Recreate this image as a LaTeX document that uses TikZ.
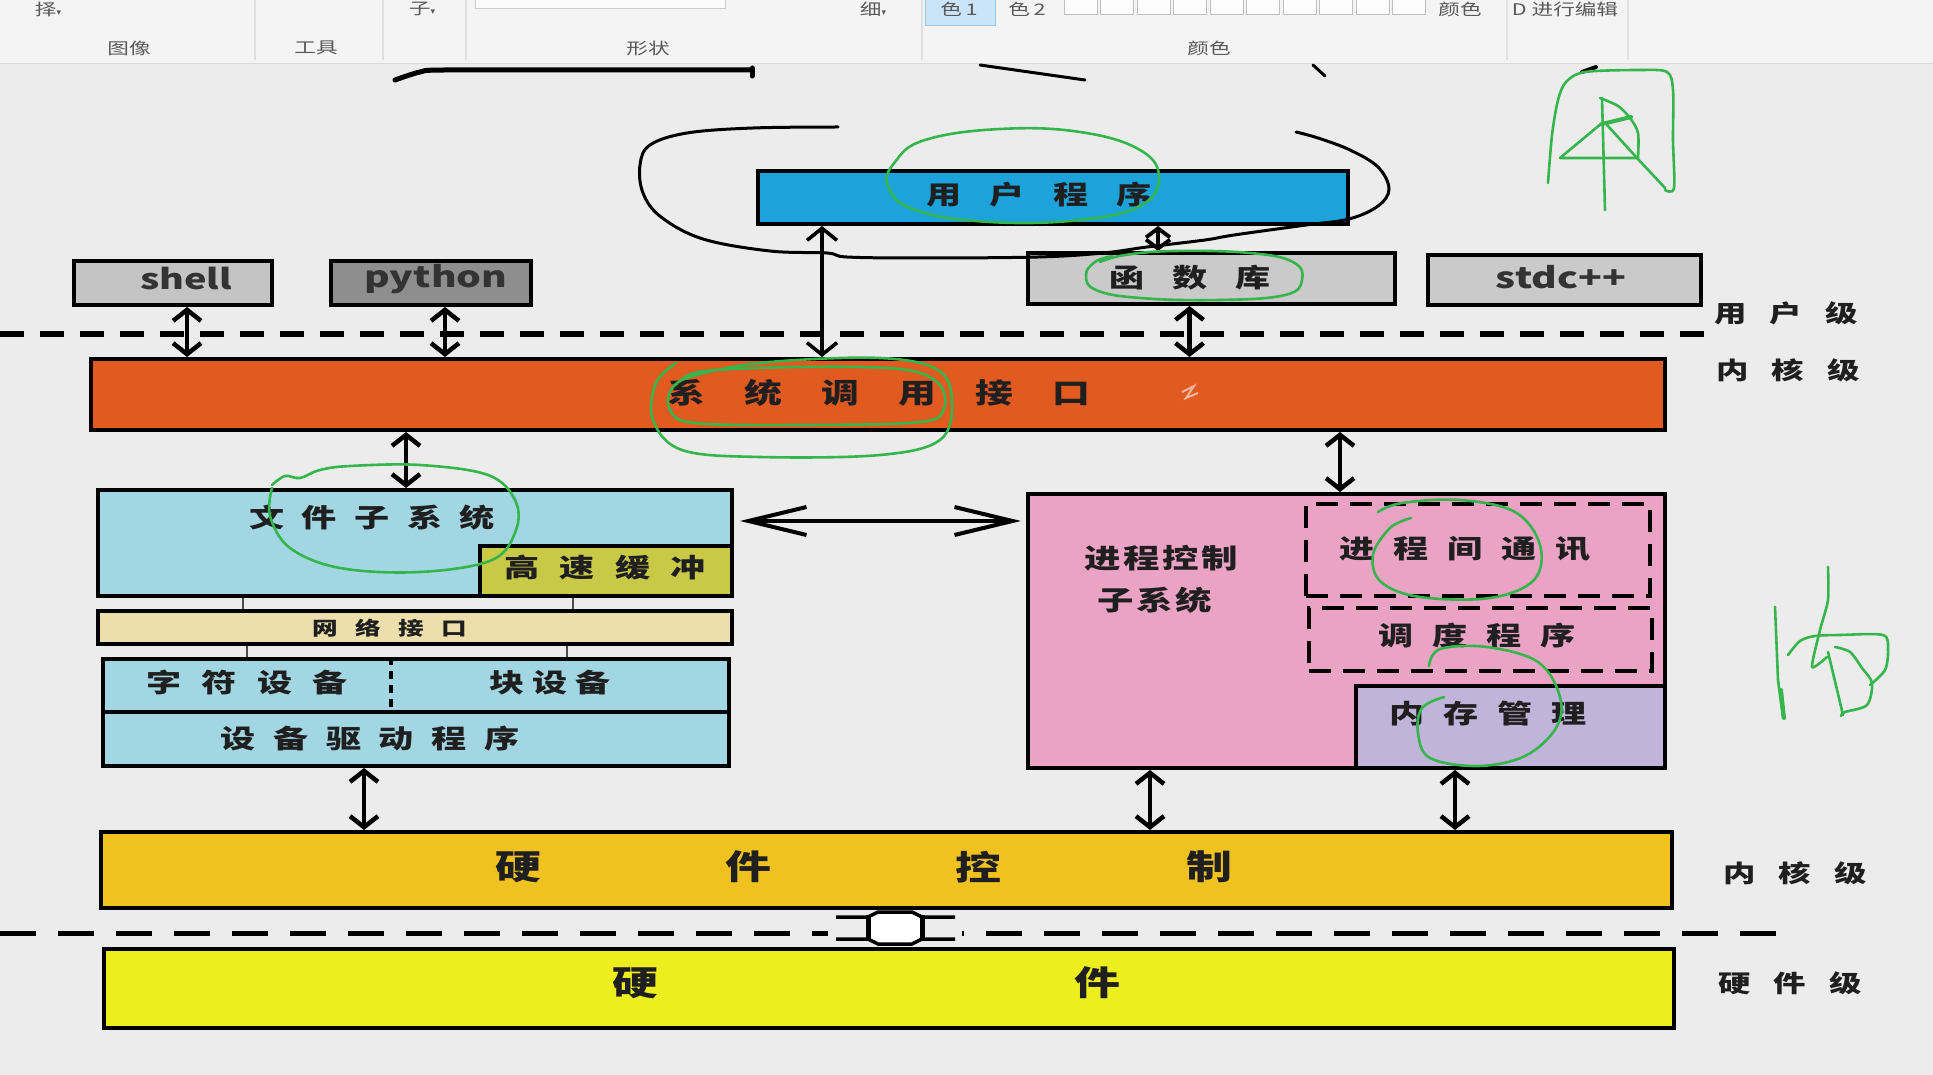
\documentclass[tikz,border=0pt]{standalone}
\usepackage{fontspec}
\usepackage{graphicx}
\newfontfamily\hei{Noto Sans CJK SC}
\newfontfamily\dejavu{DejaVu Sans}
\usetikzlibrary{arrows.meta}
\newcommand{\sx}[1]{\scalebox{1.35}[1]{#1}}
\newcommand{\myfs}[1]{\fontsize{#1}{#1}\selectfont}
\definecolor{canvasbg}{HTML}{ECECEC}
\definecolor{toolbg}{HTML}{F4F4F4}
\definecolor{selfill}{HTML}{CCE4F7}
\definecolor{seldraw}{HTML}{99C8EE}
\definecolor{userblue}{HTML}{1CA3DB}
\definecolor{sysorange}{HTML}{E15A1F}
\definecolor{fileblue}{HTML}{A2D6E3}
\definecolor{cacheolive}{HTML}{C9C948}
\definecolor{netbeige}{HTML}{ECDFAC}
\definecolor{procpink}{HTML}{EBA3C5}
\definecolor{memlav}{HTML}{C0B4DA}
\definecolor{hwctrl}{HTML}{F0C21F}
\definecolor{hwyellow}{HTML}{EDEE1E}
\definecolor{gshell}{HTML}{C4C4C4}
\definecolor{gpython}{HTML}{8E8E8E}
\definecolor{glib}{HTML}{CACACA}
\definecolor{handgreen}{HTML}{35B54C}
\tikzset{
  bx/.style={draw=black, line width=4pt, anchor=north west, inner sep=0pt},
  dbx/.style={draw=black, line width=4pt, dash pattern=on 22pt off 12pt, anchor=north west, inner sep=0pt},
  txt/.style={font=\hei\bfseries, inner sep=0pt, text=black!88},
  tbt/.style={font=\hei\myfs{16}, inner sep=0pt, text=black!65},
  darr/.style={line width=4.5pt, {Straight Barb[length=11pt,width=28pt]}-{Straight Barb[length=11pt,width=28pt]}},
  harr/.style={line width=4pt, {Straight Barb[length=58pt,width=28pt]}-{Straight Barb[length=58pt,width=28pt]}},
  tconn/.style={line width=1.6pt, draw=black!70},
  dline/.style={line width=5pt, dash pattern=on 24pt off 16pt},
  grn/.style={draw=handgreen, line width=2.6pt, line cap=round, line join=round},
  hand/.style={draw=black, line width=3pt, line cap=round, line join=round}
}
\begin{document}
\begin{tikzpicture}[x=1pt,y=-1pt]
\useasboundingbox (0,0) rectangle (1933,1075);
\clip (0,0) rectangle (1933,1075);
\fill[canvasbg] (0,0) rectangle (1933,1075);
% ---------- toolbar ----------
\fill[toolbg] (0,0) rectangle (1933,64);
\draw[black!15, line width=1pt] (0,64) -- (1933,64);
\foreach \xx in {255,383,466,922,1507,1628} \draw[black!12, line width=1.2pt] (\xx,0) -- (\xx,60);
\draw[black!20, fill=white!60!toolbg, line width=1pt] (475,-3) rectangle (725,9);
\fill[selfill] (925,-3) rectangle (995,26);
\draw[seldraw, line width=1pt] (925,-3) rectangle (995,26);
\foreach \i in {0,...,9} \draw[black!25, fill=white!80!toolbg, line width=1pt] ({1064+36.5*\i},-3) rectangle ({1064+36.5*\i+33},15);
\node[tbt] (tb1) at (48,9) {\sx{择}{\dejavu\myfs{9}▾}};
\node[tbt] (tb2) at (422,9) {\sx{子}{\dejavu\myfs{9}▾}};
\node[tbt] (tb3) at (873,9) {\sx{细}{\dejavu\myfs{9}▾}};
\node[tbt] (tb4) at (959,9) {\sx{色\,1}};
\node[tbt] (tb5) at (1027,9) {\sx{色\,2}};
\node[tbt] (tb6) at (1460,9) {\sx{颜色}};
\node[tbt] (tb7) at (1565,9) {\sx{D 进行编辑}};
\node[tbt] (tg1) at (129,48) {\sx{图像}};
\node[tbt] (tg2) at (316,48) {\sx{工具}};
\node[tbt] (tg3) at (648,48) {\sx{形状}};
\node[tbt] (tg4) at (1209,48) {\sx{颜色}};
% ---------- dashed level lines ----------
\coordinate (dla) at (0,334);
\coordinate (dlb) at (1707,334);
\draw[dline] (dla) -- (dlb);
\coordinate (dlc) at (0,933);
\coordinate (dld) at (1791,933);
\draw[line width=5pt, dash pattern=on 36pt off 22pt] (dlc) -- (dld);
% ---------- boxes ----------
\node[bx, fill=userblue, minimum width=590pt, minimum height=53pt] (user) at (756,169) {};
\node[bx, fill=gshell, minimum width=198pt, minimum height=44pt] (shell) at (72,259) {};
\node[bx, fill=gpython, minimum width=200pt, minimum height=44pt] (python) at (329,259) {};
\node[bx, fill=glib, minimum width=367pt, minimum height=51pt] (lib) at (1026,251) {};
\node[bx, fill=glib, minimum width=273pt, minimum height=50pt] (stdc) at (1426,253) {};
\node[bx, fill=sysorange, minimum width=1574pt, minimum height=71pt] (sys) at (89,357) {};
\node[bx, fill=fileblue, minimum width=634pt, minimum height=106pt] (file) at (96,488) {};
\node[bx, fill=cacheolive, minimum width=252pt, minimum height=50pt] (cache) at (478,544) {};
\node[bx, fill=netbeige, minimum width=634pt, minimum height=33pt] (net) at (96,609) {};
\node[bx, fill=fileblue, minimum width=626pt, minimum height=53pt] (chr) at (101,657) {};
\node[bx, fill=fileblue, minimum width=626pt, minimum height=54pt] (drv) at (101,710) {};
\node[bx, fill=procpink, minimum width=637pt, minimum height=274pt] (proc) at (1026,492) {};
\node[dbx, minimum width=344pt, minimum height=92pt] (ipc) at (1304,502) {};
\node[dbx, minimum width=343pt, minimum height=63pt] (sched) at (1307,606) {};
\node[bx, fill=memlav, minimum width=309pt, minimum height=82pt] (mem) at (1354,684) {};
\node[bx, fill=hwctrl, minimum width=1571pt, minimum height=76pt] (hwc) at (99,830) {};
\node[bx, fill=hwyellow, minimum width=1570pt, minimum height=79pt] (hw) at (102,947) {};
\draw[line width=4pt, dash pattern=on 8pt off 6pt] ([xshift=290pt]chr.north west) -- ([xshift=290pt]chr.south west);
% ---------- texts ----------
\node[txt, font=\hei\bfseries\myfs{26}] (tuser) at (1039,195) {\sx{用\hspace{21pt}户\hspace{21pt}程\hspace{21pt}序}};
\node[txt, font=\hei\bfseries\myfs{28}, text=black!80] (tshell) at (186,279) {\sx{shell}};
\node[txt, font=\hei\bfseries\myfs{29}, text=black!80] (tpython) at (436,279) {\sx{python}};
\node[txt, font=\hei\bfseries\myfs{26}] (tlib) at (1190,278) {\sx{函\hspace{21pt}数\hspace{21pt}库}};
\node[txt, font=\hei\bfseries\myfs{29}, text=black!80] (tstdc) at (1561,277) {\sx{stdc++}};
\node[txt, font=\hei\bfseries\myfs{28}] (tsys) at (879,393) {\sx{系\hspace{29pt}统\hspace{29pt}调\hspace{29pt}用\hspace{29pt}接\hspace{29pt}口}};
\node[txt, font=\hei\bfseries\myfs{26}] (tfile) at (372,518) {\sx{文\hspace{13pt}件\hspace{13pt}子\hspace{13pt}系\hspace{13pt}统}};
\node[txt, font=\hei\bfseries\myfs{26}] (tcache) at (605,568) {\sx{高\hspace{15pt}速\hspace{15pt}缓\hspace{15pt}冲}};
\node[txt, font=\hei\bfseries\myfs{19}] (tnet) at (390,628) {\sx{网\hspace{13pt}络\hspace{13pt}接\hspace{13pt}口}};
\node[txt, font=\hei\bfseries\myfs{26}] (tchr) at (247,683) {\sx{字\hspace{15pt}符\hspace{15pt}设\hspace{15pt}备}};
\node[txt, font=\hei\bfseries\myfs{26}] (tblk) at (550,683) {\sx{块\hspace{6pt}设\hspace{6pt}备}};
\node[txt, font=\hei\bfseries\myfs{26}] (tdrv) at (370,739) {\sx{设\hspace{13pt}备\hspace{13pt}驱\hspace{13pt}动\hspace{13pt}程\hspace{13pt}序}};
\node[txt, font=\hei\bfseries\myfs{27}] (tpc1) at (1161,558) {\sx{进\hspace{2pt}程\hspace{2pt}控\hspace{2pt}制}};
\node[txt, font=\hei\bfseries\myfs{27}] (tpc2) at (1155,600) {\sx{子\hspace{2pt}系\hspace{2pt}统}};
\node[txt, font=\hei\bfseries\myfs{26}] (tipc) at (1465,549) {\sx{进\hspace{14pt}程\hspace{14pt}间\hspace{14pt}通\hspace{14pt}讯}};
\node[txt, font=\hei\bfseries\myfs{26}] (tsched) at (1477,636) {\sx{调\hspace{14pt}度\hspace{14pt}程\hspace{14pt}序}};
\node[txt, font=\hei\bfseries\myfs{26}] (tmem) at (1488,714) {\sx{内\hspace{14pt}存\hspace{14pt}管\hspace{14pt}理}};
\node[txt, font=\hei\bfseries\myfs{34}] (thc1) at (518,867) {\sx{硬}};
\node[txt, font=\hei\bfseries\myfs{34}] (thc2) at (748,867) {\sx{件}};
\node[txt, font=\hei\bfseries\myfs{34}] (thc3) at (978,867) {\sx{控}};
\node[txt, font=\hei\bfseries\myfs{34}] (thc4) at (1209,867) {\sx{制}};
\node[txt, font=\hei\bfseries\myfs{34}] (thw1) at (635,983) {\sx{硬}};
\node[txt, font=\hei\bfseries\myfs{34}] (thw2) at (1097,983) {\sx{件}};
\node[txt, font=\hei\bfseries\myfs{24}] (lv1) at (1786,313) {\sx{用\hspace{17pt}户\hspace{17pt}级}};
\node[txt, font=\hei\bfseries\myfs{24}] (lv2) at (1788,370) {\sx{内\hspace{17pt}核\hspace{17pt}级}};
\node[txt, font=\hei\bfseries\myfs{24}] (lv3) at (1795,873) {\sx{内\hspace{17pt}核\hspace{17pt}级}};
\node[txt, font=\hei\bfseries\myfs{24}] (lv4) at (1790,983) {\sx{硬\hspace{17pt}件\hspace{17pt}级}};
% cursor mark in system call box
\draw[white!55!sysorange, line width=2pt] (1182,392) -- (1194,386) -- (1186,398) -- (1198,393);
% ---------- connectors ----------
\draw[darr] ([xshift=14pt]shell.south) -- ([xshift=14pt]shell.south |- sys.north);
\draw[darr] ([xshift=14pt]python.south) -- ([xshift=14pt]python.south |- sys.north);
\draw[darr] ([xshift=-22pt]lib.south) -- ([xshift=-22pt]lib.south |- sys.north);
\draw[line width=3.6pt, {Straight Barb[length=12pt,width=30pt]}-{Straight Barb[length=12pt,width=30pt]}] ([xshift=66pt]user.south west) -- ([xshift=66pt]user.south west |- sys.north);
\draw[line width=3.8pt, {Straight Barb[length=9pt,width=24pt]}-{Straight Barb[length=9pt,width=24pt]}] ([xshift=-192pt]user.south east) -- ([xshift=-192pt]user.south east |- lib.north);
\draw[darr] ([xshift=310pt]file.north west |- sys.south) -- ([xshift=310pt]file.north west);
\draw[darr] ([xshift=314pt]proc.north west |- sys.south) -- ([xshift=314pt]proc.north west);
\draw[harr, shorten <=6pt, shorten >=5pt] ([yshift=22pt]file.east) -- ([yshift=22pt]file.east -| proc.west);
\draw[tconn] ([xshift=147pt]file.south west) -- ([xshift=147pt]net.north west);
\draw[tconn] ([xshift=477pt]file.south west) -- ([xshift=477pt]net.north west);
\draw[tconn] ([xshift=151pt]net.south west) -- ([xshift=146pt]chr.north west);
\draw[tconn] ([xshift=471pt]net.south west) -- ([xshift=466pt]chr.north west);
\draw[darr] ([xshift=-52pt]drv.south) -- ([xshift=-52pt]drv.south |- hwc.north);
\draw[darr] ([xshift=124pt]proc.south west) -- ([xshift=124pt]proc.south west |- hwc.north);
\draw[darr] ([xshift=101pt]mem.south west) -- ([xshift=101pt]mem.south west |- hwc.north);
% link hardware control <-> hardware
\fill[canvasbg] (828,910) rectangle (962,946);
\fill[white] (868,916) -- (878,912) -- (912,912) -- (922,916) -- (922,940) -- (912,944) -- (878,944) -- (868,940) -- cycle;
\draw[line width=3.5pt, line join=round] (836,917) -- (868,917) -- (878,912) -- (912,912) -- (922,917) -- (955,917);
\draw[line width=3.5pt, line join=round] (836,939) -- (868,939) -- (878,944) -- (912,944) -- (922,939) -- (955,939);
\draw[line width=5pt] (868,915) -- (868,941);
\draw[line width=5pt] (922,915) -- (922,941);
% ---------- handwritten black ----------
\draw[hand] plot[smooth, tension=0.6] coordinates {(838,127) (753,128) (687,133) (650,145) (640,165) (643,193) (661,217) (703,239) (770,251) (827,253) (847,257) (920,258) (1038,257) (1103,253) (1147,247) (1205,240) (1234,235) (1306,225) (1349,219) (1378,206) (1389,189) (1378,167) (1350,150) (1318,138) (1296,132)};
\draw[hand, line width=5pt] plot[smooth, tension=0.5] coordinates {(395,80) (420,72) (444,70) (600,70) (752,70)};
\draw[hand, line width=5pt] (752,68) -- (752,76);
\draw[hand] (980,65) -- (1085,80);
\draw[hand] (1313,65) -- (1325,76);
\draw[hand, line width=4pt] (1582,72) -- (1596,67);
% ---------- handwritten green ----------
\draw[grn] plot[smooth cycle, tension=0.7] coordinates {(895,162) (925,140) (1000,129) (1080,132) (1140,150) (1159,178) (1140,206) (1080,220) (990,222) (915,210) (888,186)};
\draw[grn] plot[smooth, tension=0.7] coordinates {(1100,262) (1125,255) (1175,251) (1250,253) (1293,262) (1302,280) (1285,295) (1220,300) (1140,298) (1096,290) (1086,275) (1095,262) (1112,256)};
\draw[grn] plot[smooth, tension=0.6] coordinates {(682,380) (705,371) (800,367) (900,369) (938,383) (944,408) (920,422) (800,425) (695,423) (670,410) (673,387) (700,374) (770,362) (880,358) (938,370) (952,402) (940,440) (880,455) (760,457) (682,450) (653,420) (656,383) (676,363)};
\draw[grn] plot[smooth, tension=0.6] coordinates {(272,485) (285,476) (300,478) (320,470) (350,466) (420,465) (488,475) (515,500) (516,530) (492,560) (420,572) (340,568) (290,548) (270,516) (272,488)};
\draw[grn] plot[smooth, tension=0.6] coordinates {(1411,518) (1390,528) (1373,555) (1381,582) (1420,597) (1490,598) (1534,580) (1540,545) (1515,512) (1460,500) (1402,503) (1378,512)};
\draw[grn] plot[smooth, tension=0.6] coordinates {(1429,666) (1440,649) (1487,647) (1538,662) (1560,697) (1556,728) (1525,756) (1478,766) (1430,758) (1418,733) (1422,708) (1444,697)};
% green character 1
\draw[grn] plot[smooth, tension=0.5] coordinates {(1548,183) (1552,135) (1558,100) (1566,82) (1585,72) (1640,70) (1667,72) (1673,90) (1673,140) (1674,188) (1665,190)};
\draw[grn] (1602,98) -- (1605,210);
\draw[grn] plot[smooth, tension=0.5] coordinates {(1600,98) (1618,106) (1630,118) (1638,133) (1638,158)};
\draw[grn, line width=4pt] (1602,124) -- (1631,117);
\draw[grn] (1602,123) -- (1560,158) -- (1637,158);
\draw[grn] (1607,125) -- (1637,158) -- (1665,188);
% green character 2
\draw[grn] (1775,607) -- (1778,680) -- (1783,718);
\draw[grn, line width=4pt] (1781,690) -- (1784,718);
\draw[grn] plot[smooth, tension=0.4] coordinates {(1828,567) (1828,600) (1820,630) (1812,667) (1827,657)};
\draw[grn] plot[smooth, tension=0.5] coordinates {(1788,655) (1800,641) (1815,636) (1840,635) (1883,635) (1888,650) (1885,670) (1870,685)};
\draw[grn] plot[smooth, tension=0.5] coordinates {(1835,647) (1850,652) (1862,668) (1872,683) (1867,705) (1845,712) (1841,716)};
\draw[grn] (1828,652) -- (1843,715);
\end{tikzpicture}
\end{document}
